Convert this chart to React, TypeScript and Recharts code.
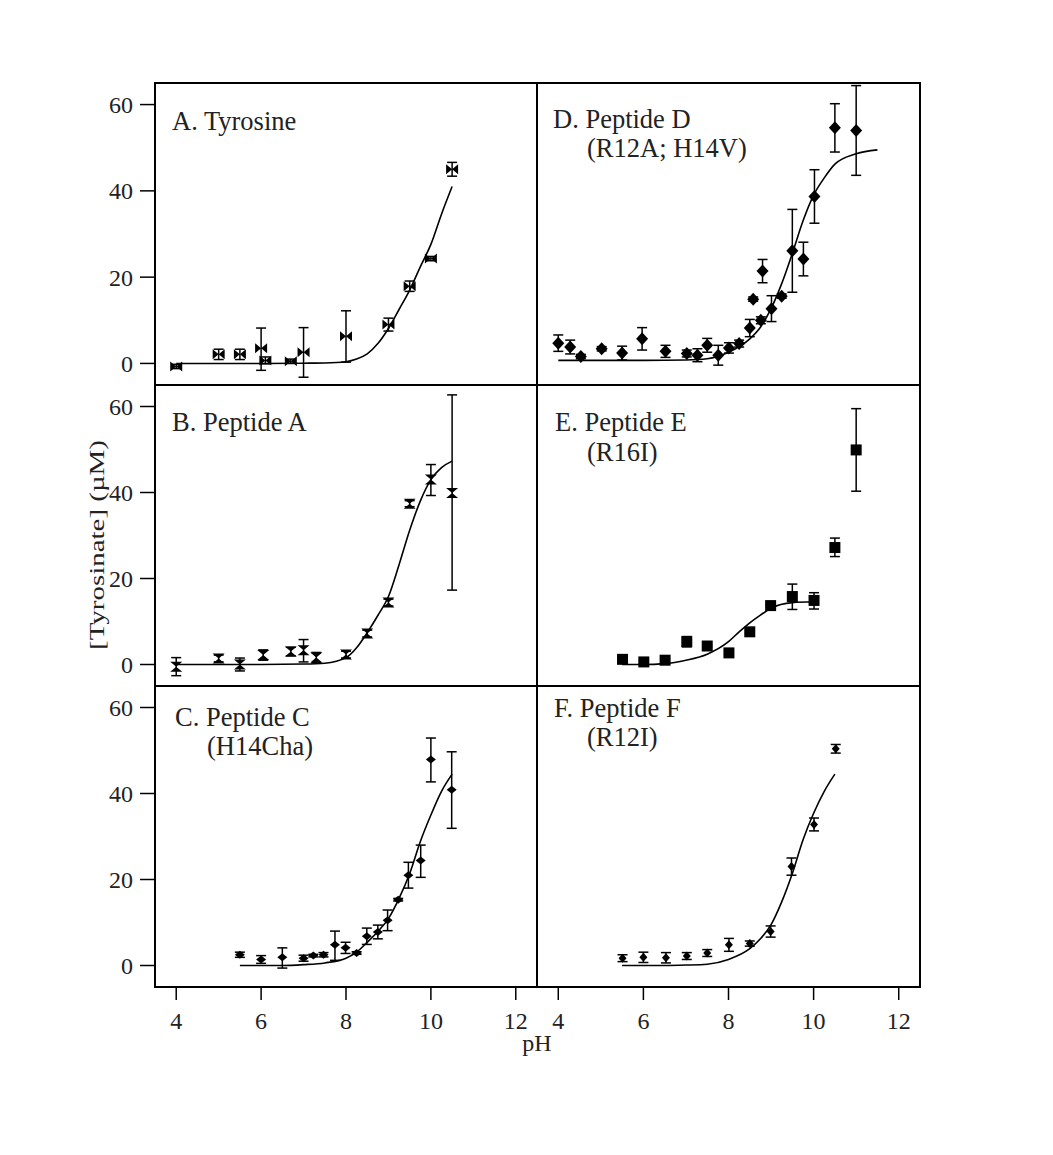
import React from 'react';
import { ComposedChart, Scatter, Line, XAxis, YAxis, ErrorBar, ReferenceArea } from 'recharts';

const FONT = '"Liberation Serif", "Times New Roman", Times, serif';

// ---- Panel A. Tyrosine
const phA = [4.0, 5.0, 5.5, 6.0, 6.1, 6.7, 7.0, 8.0, 9.0, 9.5, 10.0, 10.5];
const tyrA = [-0.7, 2.1, 2.1, 3.5, 0.7, 0.5, 2.6, 6.3, 9.0, 17.9, 24.3, 45.0];
const errLoA = [0.5, 1.2, 1.2, 5.1, 0.8, 0.5, 5.8, 6.0, 1.5, 1.2, 0.5, 1.6];
const errHiA = [0.5, 1.2, 1.2, 4.7, 0.8, 0.5, 5.7, 5.9, 1.5, 1.2, 0.5, 1.6];
const fitPhA = [4, 5, 6, 7, 7.5, 8, 8.25, 8.5, 8.75, 9, 9.25, 9.5, 9.75, 10, 10.25, 10.5];
const fitA = [0, 0, 0, 0.05, 0.1, 0.4, 1.0, 2.2, 4.6, 8.1, 12.5, 17.0, 22.4, 27.6, 34.6, 41.0];

// ---- Panel B. Peptide A
const phB = [4.0, 5.0, 5.5, 6.05, 6.7, 7.0, 7.3, 8.0, 8.5, 9.0, 9.5, 10.0, 10.5];
const tyrB = [-0.5, 1.4, 0.0, 2.2, 3.0, 3.3, 1.6, 2.3, 7.2, 14.4, 37.4, 43.0, 39.9];
const errLoB = [2.1, 0.8, 1.5, 1.2, 1.0, 2.7, 1.2, 0.8, 0.8, 0.8, 0.7, 3.7, 22.6];
const errHiB = [2.1, 0.8, 1.5, 1.2, 1.0, 2.5, 1.2, 0.8, 0.8, 0.8, 0.7, 3.5, 22.8];
const fitPhB = [4, 5, 6, 7, 7.5, 8, 8.25, 8.5, 8.75, 9, 9.25, 9.5, 9.75, 10, 10.25, 10.5];
const fitB = [0, 0, 0, 0.1, 0.3, 1.6, 3.9, 7.4, 11.4, 15.8, 23.2, 31.2, 38.0, 43.0, 45.8, 47.3];

// ---- Panel C. Peptide C (H14Cha)
const phC = [5.5, 6.0, 6.5, 7.0, 7.23, 7.47, 7.74, 7.99, 8.25, 8.49, 8.75, 8.98, 9.23, 9.47, 9.76, 10.0, 10.49];
const tyrC = [2.5, 1.4, 1.9, 1.7, 2.3, 2.5, 4.8, 4.1, 2.9, 6.8, 7.8, 10.5, 15.3, 21.0, 24.4, 47.9, 40.9];
const errLoC = [0.6, 0.9, 2.5, 0.7, 0.3, 0.5, 3.6, 1.3, 0.3, 1.9, 1.6, 2.4, 0.3, 3.0, 3.9, 5.2, 9.0];
const errHiC = [0.6, 0.9, 2.2, 0.7, 0.3, 0.5, 3.2, 1.3, 0.3, 1.9, 1.6, 2.4, 0.3, 3.0, 3.6, 5.0, 8.8];
const fitPhC = [5.5, 6.5, 7, 7.5, 8, 8.25, 8.5, 8.75, 9, 9.25, 9.5, 9.75, 10, 10.25, 10.5];
const fitC = [0, 0, 0.2, 0.6, 1.7, 3.1, 5.4, 7.9, 10.9, 15.6, 21.4, 28.8, 35.0, 40.5, 44.5];

// ---- Panel D. Peptide D (R12A; H14V)
const phD = [4.0, 4.28, 4.53, 5.02, 5.5, 5.97, 6.52, 7.02, 7.27, 7.5, 7.76, 8.01, 8.25, 8.5, 8.58, 8.76, 8.8, 9.01, 9.25, 9.5, 9.76, 10.02, 10.5, 11.0];
const tyrD = [4.7, 3.8, 1.6, 3.4, 2.4, 5.7, 2.8, 2.3, 1.9, 4.2, 1.9, 3.6, 4.6, 8.2, 14.9, 10.0, 21.4, 12.7, 15.6, 26.1, 24.2, 38.7, 54.6, 54.0];
const errD = [1.9, 1.6, 0.5, 0.5, 1.6, 2.6, 1.4, 0.8, 1.5, 1.6, 2.3, 1.2, 0.8, 2.0, 0.5, 0.8, 2.7, 3.0, 0.5, 9.6, 3.9, 6.2, 5.6, 10.4];
const fitPhD = [4, 5, 6, 7, 7.5, 8, 8.5, 8.75, 9, 9.25, 9.5, 9.75, 10, 10.25, 10.5, 11, 11.5];
const fitD = [0.7, 0.7, 0.7, 0.8, 1.1, 2.6, 5.7, 8.4, 12.7, 18.5, 25.5, 33.0, 39.0, 43.0, 46.2, 48.6, 49.5];

// ---- Panel E. Peptide E (R16I)
const phE = [5.51, 6.01, 6.51, 7.02, 7.5, 8.01, 8.5, 8.99, 9.5, 10.01, 10.5, 11.0];
const tyrE = [1.2, 0.6, 1.0, 5.3, 4.3, 2.7, 7.6, 13.7, 15.8, 14.9, 27.2, 49.9];
const errLoE = [0.3, 0.3, 0.3, 1.2, 0.3, 0.3, 0.3, 0.3, 3.0, 2.0, 2.1, 9.6];
const errHiE = [0.3, 0.3, 0.3, 1.2, 0.3, 0.3, 0.3, 0.3, 2.9, 1.8, 2.2, 9.6];
const fitPhE = [5.5, 6, 6.5, 7, 7.5, 8, 8.25, 8.5, 8.75, 9, 9.5, 10];
const fitE = [0, 0, 0.2, 1.0, 2.4, 5.3, 7.6, 9.7, 11.5, 13.1, 14.4, 14.6];

// ---- Panel F. Peptide F (R12I)
const phF = [5.51, 6.0, 6.53, 7.02, 7.5, 8.01, 8.5, 8.99, 9.48, 10.01, 10.52];
const tyrF = [1.7, 1.9, 1.8, 2.2, 2.9, 4.8, 5.1, 7.9, 23.0, 32.8, 50.4];
const errF = [0.8, 1.2, 1.2, 0.8, 0.8, 1.5, 0.6, 1.3, 2.0, 1.5, 1.0];
const fitPhF = [5.5, 6.5, 7, 7.5, 8, 8.5, 8.75, 9, 9.25, 9.5, 9.75, 10, 10.25, 10.5];
const fitF = [0, 0, 0.1, 0.3, 1.4, 3.9, 6.2, 9.5, 14.8, 21.4, 29.2, 35.4, 40.5, 44.5];

const xTicks = [4, 6, 8, 10, 12];
const yTicks = [0, 20, 40, 60];

const mkPts = (ph: number[], v: number[], lo: number[], hi: number[]) =>
  ph.map((x, i) => ({ x, y: v[i], err: [lo[i], hi[i]] }));
const mkFit = (ph: number[], v: number[]) => ph.map((x, i) => ({ x, y: v[i] }));

const bowtieH = (p: any) => (
  <path d={`M${p.cx - 6},${p.cy - 5}L${p.cx + 6},${p.cy + 5}L${p.cx + 6},${p.cy - 5}L${p.cx - 6},${p.cy + 5}Z`} fill="#000" />
);
const hourglass = (p: any) => (
  <path d={`M${p.cx - 6},${p.cy - 5}L${p.cx + 6},${p.cy - 5}L${p.cx - 6},${p.cy + 5}L${p.cx + 6},${p.cy + 5}Z`} fill="#000" />
);
const diamondOf = (rx: number, ry: number) => (p: any) => (
  <path d={`M${p.cx},${p.cy - ry}L${p.cx + rx},${p.cy}L${p.cx},${p.cy + ry}L${p.cx - rx},${p.cy}Z`} fill="#000" />
);
const square = (p: any) => <rect x={p.cx - 5.5} y={p.cy - 5.5} width={11} height={11} fill="#000" />;

type PanelProps = {
  left: number; top: number; plotH: number; col: 0 | 1; bottom: boolean;
  pts: any[]; fit: any[]; shape: any;
};

function Panel({ left, top, plotH, col, bottom, pts, fit, shape }: PanelProps) {
  const width = col === 0 ? 501 : 391;
  const margin = { top: 4, right: 4, bottom: bottom ? 0 : 4, left: col === 0 ? 0 : 4 };
  const height = 4 + plotH + (bottom ? 60 : 4);
  const tickStyle = { fontFamily: FONT, fontSize: 24, fill: '#222' };
  return (
    <div style={{ position: 'absolute', left, top }}>
      <ComposedChart width={width} height={height} margin={margin}>
        <XAxis
          type="number" dataKey="x" domain={[3.5, 12.5]} ticks={xTicks} allowDataOverflow
          hide={!bottom} height={60} tickSize={13} tickMargin={12} axisLine={false}
          tickLine={{ stroke: '#000', strokeWidth: 1.5 }} tick={tickStyle} interval={0}
        />
        <YAxis
          type="number" dataKey="y" domain={[-5, 65]} ticks={yTicks} allowDataOverflow
          hide={col !== 0} width={115} tickSize={15} tickMargin={7} axisLine={false}
          tickLine={{ stroke: '#000', strokeWidth: 1.5 }} tick={tickStyle} interval={0}
        />
        <ReferenceArea x1={3.5} x2={12.5} y1={-5} y2={65} fill="none" fillOpacity={0} stroke="#000" strokeWidth={2} ifOverflow="visible" />
        <Line data={fit} dataKey="y" type="monotone" stroke="#000" strokeWidth={1.6} dot={false} isAnimationActive={false} />
        <Scatter data={pts} dataKey="y" shape={shape} isAnimationActive={false}>
          <ErrorBar dataKey="err" direction="y" width={5} stroke="#000" strokeWidth={1.5} />
        </Scatter>
      </ComposedChart>
    </div>
  );
}

export default function App() {
  const txt = { fontFamily: FONT, fontSize: 26.5, fill: '#222' } as const;
  return (
    <div style={{ position: 'absolute', left: 0, top: 0, width: 1053, height: 1155, background: '#fff' }}>
      <Panel left={40} top={79} plotH={302} col={0} bottom={false}
        pts={mkPts(phA, tyrA, errLoA, errHiA)} fit={mkFit(fitPhA, fitA)} shape={bowtieH} />
      <Panel left={533} top={79} plotH={302} col={1} bottom={false}
        pts={mkPts(phD, tyrD, errD, errD)} fit={mkFit(fitPhD, fitD)} shape={diamondOf(6, 6.5)} />
      <Panel left={40} top={381} plotH={301} col={0} bottom={false}
        pts={mkPts(phB, tyrB, errLoB, errHiB)} fit={mkFit(fitPhB, fitB)} shape={hourglass} />
      <Panel left={533} top={381} plotH={301} col={1} bottom={false}
        pts={mkPts(phE, tyrE, errLoE, errHiE)} fit={mkFit(fitPhE, fitE)} shape={square} />
      <Panel left={40} top={682} plotH={301} col={0} bottom={true}
        pts={mkPts(phC, tyrC, errLoC, errHiC)} fit={mkFit(fitPhC, fitC)} shape={diamondOf(5, 4)} />
      <Panel left={533} top={682} plotH={301} col={1} bottom={true}
        pts={mkPts(phF, tyrF, errF, errF)} fit={mkFit(fitPhF, fitF)} shape={diamondOf(4, 4.5)} />
      <svg width={1053} height={1155} style={{ position: 'absolute', left: 0, top: 0, pointerEvents: 'none' }}>
        <text x={172} y={130} {...txt}>A. Tyrosine</text>
        <text x={553} y={128} {...txt}>D. Peptide D</text>
        <text x={587} y={157} {...txt}>(R12A; H14V)</text>
        <text x={172} y={431} {...txt}>B. Peptide A</text>
        <text x={555} y={431} {...txt}>E. Peptide E</text>
        <text x={587} y={461} {...txt}>(R16I)</text>
        <text x={175} y={726} {...txt}>C. Peptide C</text>
        <text x={207} y={755} {...txt}>(H14Cha)</text>
        <text x={554} y={717} {...txt}>F. Peptide F</text>
        <text x={587} y={746} {...txt}>(R12I)</text>
        <text x={537} y={1051} textAnchor="middle" fontFamily={FONT} fontSize={24} fill="#222">pH</text>
        <text x={0} y={0} transform="translate(104,545) rotate(-90)" textAnchor="middle"
          fontFamily={FONT} fontSize={22} fill="#222" textLength={210} lengthAdjust="spacingAndGlyphs">[Tyrosinate] (µM)</text>
      </svg>
    </div>
  );
}
